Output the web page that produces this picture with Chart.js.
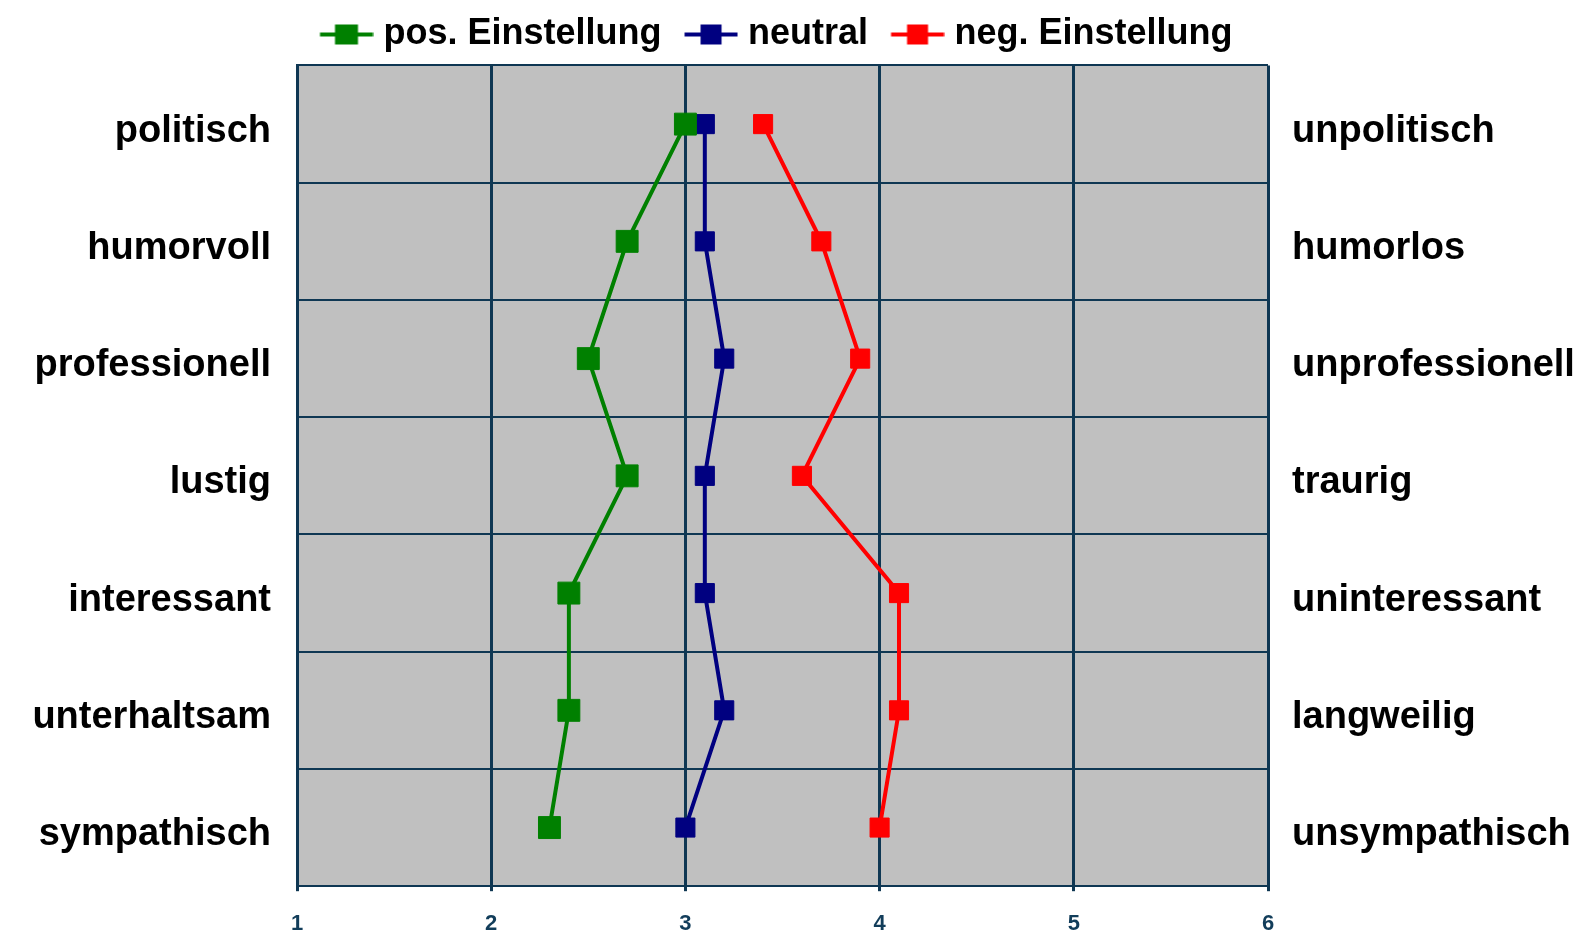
<!DOCTYPE html>
<html>
<head>
<meta charset="utf-8">
<script src="https://cdn.jsdelivr.net/npm/chart.js@4/dist/chart.umd.min.js"></script>
<style>
  html, body { margin: 0; padding: 0; background: #ffffff; }
  #wrap { width: 1592px; height: 935px; }
</style>
</head>
<body>
<div id="wrap"><canvas id="c" width="1592" height="935"></canvas></div>
<script>
// ---- data ----
const leftLabels = ["politisch", "humorvoll", "professionell", "lustig", "interessant", "unterhaltsam", "sympathisch"];
const rightLabels = ["unpolitisch", "humorlos", "unprofessionell", "traurig", "uninteressant", "langweilig", "unsympathisch"];
const seriesNames = ["pos. Einstellung", "neutral", "neg. Einstellung"];
const posValues = [3.0, 2.7, 2.5, 2.7, 2.4, 2.4, 2.3];
const neutralValues = [3.1, 3.1, 3.2, 3.1, 3.1, 3.2, 3.0];
const negValues = [3.4, 3.7, 3.9, 3.6, 4.1, 4.1, 4.0];
const xTicks = [1, 2, 3, 4, 5, 6];

// ---- styles ----
const colors = ["#008000", "#000080", "#ff0000"];
const gridColor = "#0f3753";
const FONT = "'Liberation Sans', Arial, sans-serif";

function legendMarker(color, sqW) {
  const cv = document.createElement('canvas');
  cv.width = 72; cv.height = 24;
  const g = cv.getContext('2d');
  g.strokeStyle = color; g.lineWidth = 4;
  g.beginPath(); g.moveTo(18.5, 12); g.lineTo(71.5, 12); g.stroke();
  g.fillStyle = color;
  g.fillRect(45 - sqW / 2, 2, sqW, 20);
  return cv;
}
const markers = [legendMarker(colors[0], 23), legendMarker(colors[1], 21), legendMarker(colors[2], 21)];

const bgPlugin = {
  id: 'plotBg',
  beforeDraw(chart) {
    const a = chart.chartArea, ctx = chart.ctx;
    ctx.save();
    ctx.fillStyle = '#c0c0c0';
    ctx.fillRect(a.left, a.top, a.right - a.left, a.bottom - a.top);
    ctx.restore();
  }
};

function ds(i, values, r) {
  return {
    label: seriesNames[i],
    data: values,
    borderColor: colors[i],
    backgroundColor: colors[i],
    borderWidth: 4,
    pointStyle: 'rect',
    pointRadius: r,
    pointHoverRadius: r,
    pointBorderWidth: 1,
    pointBorderColor: colors[i],
    pointBackgroundColor: colors[i],
    tension: 0,
    fill: false
  };
}

new Chart(document.getElementById('c'), {
  type: 'line',
  data: {
    labels: leftLabels,
    datasets: [ds(0, posValues, 15.5), ds(1, neutralValues, 13.5), ds(2, negValues, 13.5)]
  },
  plugins: [bgPlugin],
  options: {
    responsive: false,
    animation: false,
    indexAxis: 'y',
    layout: { padding: { top: 4, left: 0, right: 0, bottom: 0 } },
    plugins: {
      tooltip: { enabled: false },
      legend: {
        position: 'top',
        fullSize: false,
        align: 'start',
        labels: {
          usePointStyle: true,
          pointStyleWidth: 56,
          padding: 12.5,
          color: '#000000',
          font: { family: FONT, size: 36, weight: 'bold' },
          generateLabels(chart) {
            const items = Chart.defaults.plugins.legend.labels.generateLabels(chart);
            items.forEach((it, k) => { it.pointStyle = markers[k]; });
            return items;
          }
        }
      }
    },
    scales: {
      x: {
        type: 'linear',
        position: 'bottom',
        min: 1, max: 6,
        afterBuildTicks(scale) { scale.ticks = xTicks.map(v => ({ value: v })); },
        afterFit(scale) { scale.height = 46; },
        grid: { color: gridColor, lineWidth: 3, tickLength: 5, drawTicks: true },
        border: { display: true, color: gridColor, width: 2 },
        ticks: {
          padding: 20,
          maxRotation: 0,
          color: '#123d5a',
          font: { family: FONT, size: 22, weight: 'bold' }
        }
      },
      xTopSpacer: {
        type: 'linear',
        axis: 'x',
        position: 'top',
        min: 1, max: 6,
        afterFit(scale) { scale.height = 3; },
        grid: { display: false, drawTicks: false },
        border: { display: false },
        ticks: { display: false }
      },
      y: {
        type: 'category',
        position: 'left',
        offset: true,
        grid: { offset: true, color: gridColor, lineWidth: 2, drawTicks: false },
        border: { display: true, color: gridColor, width: 3 },
        afterFit(scale) { scale.width = 297; },
        ticks: {
          padding: 26,
          labelOffset: 7,
          color: '#000000',
          font: { family: FONT, size: 38, weight: 'bold' }
        }
      },
      y2: {
        type: 'category',
        position: 'right',
        labels: rightLabels,
        offset: true,
        grid: { display: false, drawTicks: false },
        border: { display: false },
        afterFit(scale) { scale.width = 324; },
        ticks: {
          padding: 24,
          labelOffset: 7,
          color: '#000000',
          font: { family: FONT, size: 38, weight: 'bold' }
        }
      }
    }
  }
});
</script>
</body>
</html>
